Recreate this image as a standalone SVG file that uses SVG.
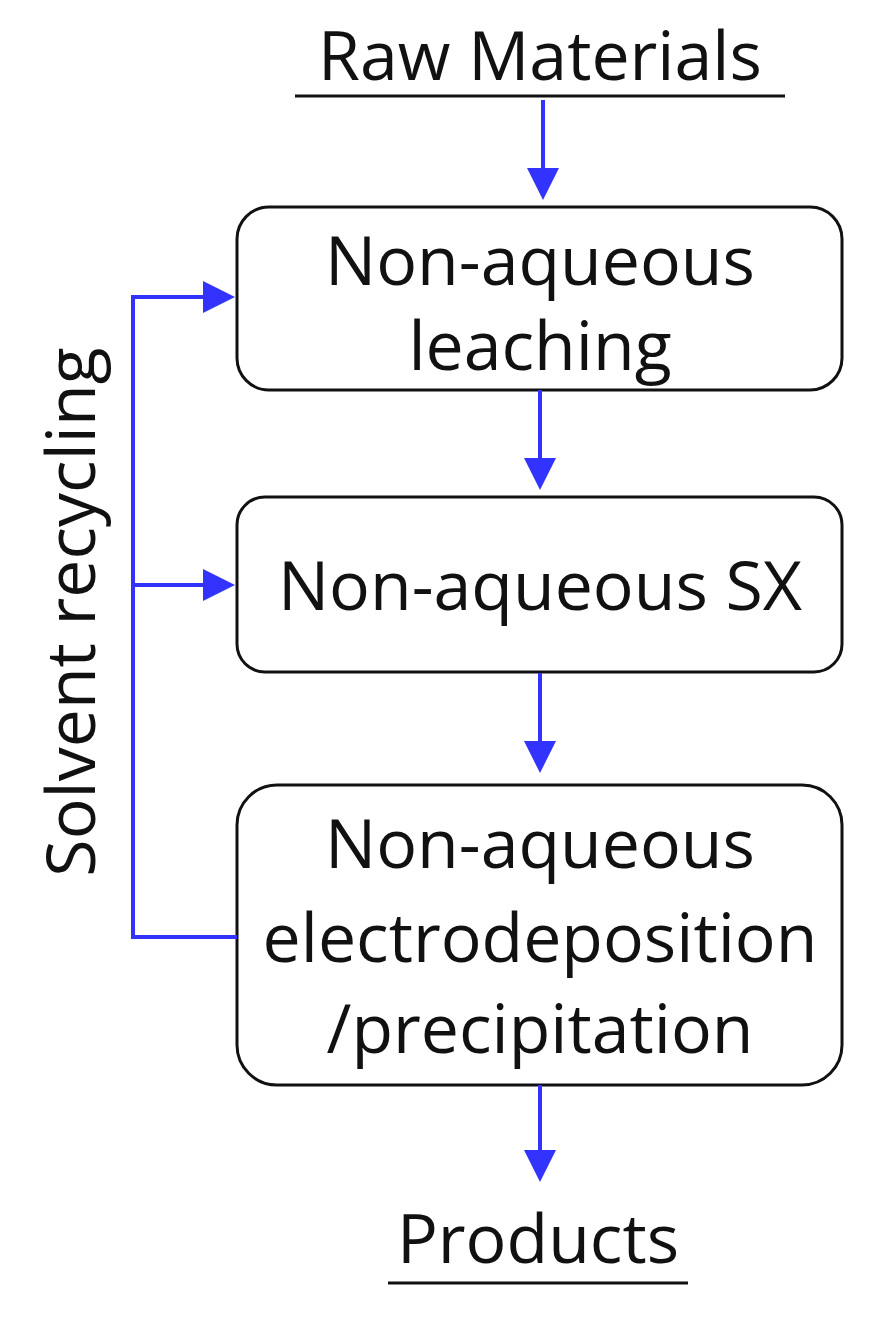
<svg xmlns="http://www.w3.org/2000/svg" width="877" height="1317" viewBox="0 0 877 1317">
<defs>
<style>
.t{font-family:"Open Sans","Liberation Sans",sans-serif;font-size:68px;fill:#111;text-anchor:middle}
.b{fill:#fff;stroke:#111;stroke-width:3}
.c{stroke:#3333ff;stroke-width:4;fill:none}
.h{fill:#3333ff}
</style>
</defs>
<rect width="877" height="1317" fill="#fff"/>
<g id="raw"><text class="t" x="540" y="80">Raw Materials</text><line x1="295" y1="96" x2="785" y2="96" stroke="#111" stroke-width="3"/></g>
<g id="box1"><rect class="b" x="237" y="207" width="605" height="183" rx="32"/><text class="t" x="540" y="285">Non-aqueous</text><text class="t" x="540" y="370">leaching</text></g>
<g id="box2"><rect class="b" x="237" y="497" width="605" height="175" rx="28"/><text class="t" x="540" y="610">Non-aqueous SX</text></g>
<g id="box3"><rect class="b" x="237" y="785" width="605" height="300" rx="40"/><text class="t" x="540" y="868">Non-aqueous</text><text class="t" x="540" y="962">electrodeposition</text><text class="t" x="540" y="1053">/precipitation</text></g>
<g id="products"><text class="t" x="538" y="1263">Products</text><line x1="388" y1="1283" x2="688" y2="1283" stroke="#111" stroke-width="3"/></g>
<g id="label"><text class="t" transform="translate(95,612) rotate(-90)">Solvent recycling</text></g>
<g id="connectors">
<line class="c" x1="543" y1="100" x2="543" y2="170"/><path class="h" d="M527,168 L559,168 L543,200 Z"/>
<line class="c" x1="540" y1="390" x2="540" y2="460"/><path class="h" d="M524,458 L556,458 L540,490 Z"/>
<line class="c" x1="540" y1="673" x2="540" y2="743"/><path class="h" d="M524,741 L556,741 L540,773 Z"/>
<line class="c" x1="540" y1="1085" x2="540" y2="1152"/><path class="h" d="M524,1150 L556,1150 L540,1182 Z"/>
<polyline class="c" points="237,937 133,937 133,297 205,297"/><path class="h" d="M203,281 L203,313 L235,297 Z"/>
<line class="c" x1="133" y1="585" x2="205" y2="585"/><path class="h" d="M203,569 L203,601 L235,585 Z"/>
</g>
</svg>
